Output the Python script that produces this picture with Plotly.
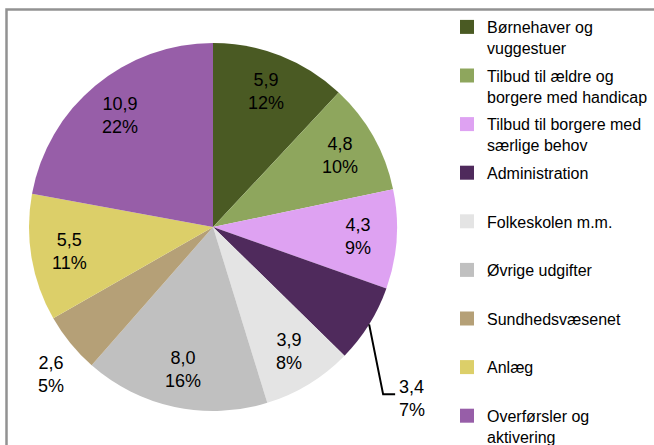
import math

import plotly.graph_objects as go

# Categories in clockwise order, starting at 12 o'clock
CATEGORIES = [
    "Børnehaver og<br>vuggestuer",
    "Tilbud til ældre og<br>borgere med handicap",
    "Tilbud til borgere med<br>særlige behov",
    "Administration<br> ",
    "Folkeskolen m.m.<br> ",
    "Øvrige udgifter<br> ",
    "Sundhedsvæsenet<br> ",
    "Anlæg<br> ",
    "Overførsler og<br>aktivering",
]
VALUES = [5.9, 4.8, 4.3, 3.4, 3.9, 8.0, 2.6, 5.5, 10.9]
COLORS = [
    "#4a5a23", "#8ea65d", "#dea2f2", "#4f2a5c", "#e4e4e4",
    "#c0c0c0", "#b5a077", "#dccf69", "#975ea8",
]

FONT = "Liberation Sans, Arial, sans-serif"
# the original graphic is cut off at the bottom, so the figure is a bit
# taller than the 445px window
W, H = 654, 465
CX, CY, R = 213, 227, 184  # pie centre and radius in pixels (from top-left)


def to_paper(px, py):
    return px / W, 1 - py / H


def fmt(v):
    return f"{v:.1f}".replace(".", ",")


total = sum(VALUES)
fig = go.Figure()

fig.add_trace(go.Pie(
    labels=CATEGORIES,
    values=VALUES,
    sort=False,
    direction="clockwise",
    rotation=0,
    marker=dict(colors=COLORS, line=dict(width=0)),
    textinfo="none",
    showlegend=False,
    domain=dict(x=[(CX - R) / W, (CX + R) / W],
                y=[1 - (CY + R) / H, 1 - (CY - R) / H]),
))

# legend entries (one group each so the spacing can be set)
for name, color in zip(CATEGORIES, COLORS):
    fig.add_trace(go.Scatter(
        x=[None], y=[None], mode="markers", name=name, legendgroup=name,
        marker=dict(symbol="square", size=14, color=color),
    ))

# value / percentage labels
annotations = []
shapes = []
cum = 0.0
for name, v in zip(CATEGORIES, VALUES):
    theta = (cum + v / 2) / total * 2 * math.pi
    cum += v
    text = f"{fmt(v)}<br>{round(100 * v / total)}%"
    ex, ey = CX + R * math.sin(theta), CY - R * math.cos(theta)  # slice edge
    if name.startswith("Administration"):
        p0 = to_paper(ex, ey)
        p1 = to_paper(ex + 14, ey + 70)
        p2 = to_paper(ex + 26, ey + 70)
        shapes.append(dict(
            type="path", xref="paper", yref="paper",
            path=f"M {p0[0]} {p0[1]} L {p1[0]} {p1[1]} L {p2[0]} {p2[1]}",
            line=dict(color="black", width=2),
        ))
        tx, ty = to_paper(ex + 28, ey + 74)
        annotations.append(dict(x=tx, y=ty, xanchor="left", yanchor="middle",
                                text=text, align="left"))
        continue
    if name.startswith("Sundhed"):
        tx, ty = to_paper(ex - 20, ey + 31)
    else:
        r = 0.79 * R
        tx, ty = to_paper(CX + r * math.sin(theta), CY - r * math.cos(theta))
    annotations.append(dict(x=tx, y=ty, xanchor="center", yanchor="middle", text=text))

for a in annotations:
    a.update(xref="paper", yref="paper", showarrow=False,
             font=dict(family=FONT, size=18, color="black"))

# outer frame
fx0, fy0 = to_paper(6.5, 9.5)
shapes.append(dict(type="rect", xref="paper", yref="paper", x0=fx0, y0=fy0,
                   x1=1.1, y1=-0.1, line=dict(color="#929292", width=2.5),
                   layer="above"))

fig.update_layout(
    width=W,
    height=H,
    margin=dict(l=0, r=0, t=0, b=0),
    paper_bgcolor="white",
    plot_bgcolor="rgba(0,0,0,0)",
    xaxis=dict(visible=False),
    yaxis=dict(visible=False),
    annotations=annotations,
    shapes=shapes,
    legend=dict(
        x=447 / W, xanchor="left",
        y=1 - 10 / H, yanchor="top",
        valign="top",
        tracegroupgap=4,
        bgcolor="rgba(0,0,0,0)",
        font=dict(family=FONT, size=16, color="black"),
    ),
)

fig.write_html(
    "out.html",
    config={"displayModeBar": False},
    post_script="document.body.style.margin = '0'; document.body.style.overflow = 'hidden';",
)
